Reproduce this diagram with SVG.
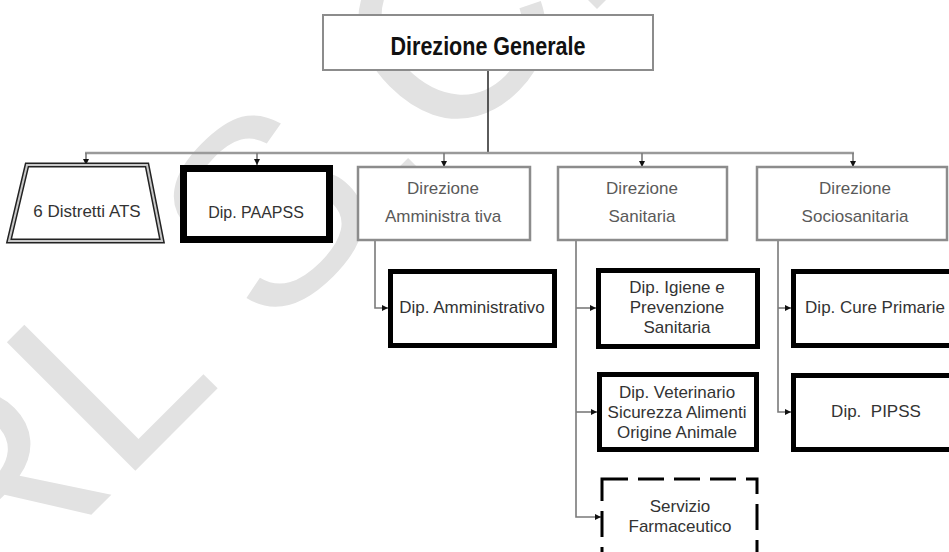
<svg xmlns="http://www.w3.org/2000/svg" width="949" height="552" viewBox="0 0 949 552">
<style>
.t{font-family:"Liberation Sans",Arial,sans-serif;font-size:17px;fill:#333;text-anchor:middle}
.g{fill:#5a5a5a}
.dir{fill:#fff;stroke:#8c8c8c;stroke-width:2.5}
.dip{fill:#fff;stroke:#000;stroke-width:5}
.wm{font-family:"Liberation Sans",Arial,sans-serif;font-size:264px;fill:#e2e2e2}
.c{fill:none;stroke:#7a7a7a;stroke-width:1.6}
</style>
<defs>
<marker id="ah" markerWidth="6" markerHeight="6" refX="6" refY="3" orient="auto" markerUnits="userSpaceOnUse"><path d="M0,0 L6,3 L0,6 z" fill="#111"/></marker>
</defs>
<rect width="949" height="552" fill="#fff"/>
<text class="wm" transform="translate(133,473) rotate(-45)" x="-209" y="0">RL S.C.R</text>
<g id="connectors">
<path d="M488,70 V153" fill="none" stroke="#333" stroke-width="1.6"/>
<path d="M85,153 H854" fill="none" stroke="#9a9a9a" stroke-width="2.5"/>
<path class="c" d="M86,153 V165" marker-end="url(#ah)"/>
<path class="c" d="M257,153 V165" marker-end="url(#ah)"/>
<path class="c" d="M444,153 V167" marker-end="url(#ah)"/>
<path class="c" d="M642,153 V167" marker-end="url(#ah)"/>
<path class="c" d="M853,153 V167" marker-end="url(#ah)"/>
<path class="c" d="M375,240 V308 H388" marker-end="url(#ah)"/>
<path class="c" d="M576,240 V517 H601" marker-end="url(#ah)"/>
<path class="c" d="M576,308 H596" marker-end="url(#ah)"/>
<path class="c" d="M576,412 H597" marker-end="url(#ah)"/>
<path class="c" d="M778,240 V412 H791" marker-end="url(#ah)"/>
<path class="c" d="M778,308 H791" marker-end="url(#ah)"/>
</g>
<g id="direzione-generale">
<rect x="323" y="15" width="330" height="55" fill="#fff" stroke="#8c8c8c" stroke-width="2"/>
<text x="488" y="55" class="t" style="font-size:25px;font-weight:bold;fill:#111" textLength="195" lengthAdjust="spacingAndGlyphs">Direzione Generale</text>
</g>
<g id="distretti-ats">
<polygon points="27,165 147,165 162,241 9,241" fill="#fff" stroke="#222" stroke-width="5"/>
<polygon points="27,165 147,165 162,241 9,241" fill="none" stroke="#c8c8c8" stroke-width="2"/>
<text x="87" y="217" class="t">6 Distretti ATS</text>
</g>
<g id="dip-paapss">
<rect x="183.5" y="168.5" width="146" height="71" fill="#fff" stroke="#000" stroke-width="7"/>
<text x="256" y="218" class="t" style="font-size:16px">Dip. PAAPSS</text>
</g>
<g id="direzione-amministrativa">
<rect class="dir" x="358" y="167" width="172" height="73"/>
<text x="443" y="194" class="t g">Direzione</text>
<text x="443" y="222" class="t g">Amministra tiva</text>
</g>
<g id="direzione-sanitaria">
<rect class="dir" x="558" y="167" width="169" height="73"/>
<text x="642" y="194" class="t g">Direzione</text>
<text x="642" y="222" class="t g">Sanitaria</text>
</g>
<g id="direzione-sociosanitaria">
<rect class="dir" x="757" y="167" width="190" height="73"/>
<text x="855" y="194" class="t g">Direzione</text>
<text x="855" y="222" class="t g">Sociosanitaria</text>
</g>
<g id="dip-amministrativo">
<rect class="dip" x="390.5" y="271.5" width="164" height="74"/>
<text x="472" y="313" class="t">Dip. Amministrativo</text>
</g>
<g id="dip-igiene">
<rect class="dip" x="598.5" y="270.5" width="159" height="76"/>
<text x="677" y="293" class="t">Dip. Igiene e</text>
<text x="677" y="313" class="t">Prevenzione</text>
<text x="677" y="333" class="t">Sanitaria</text>
</g>
<g id="dip-veterinario">
<rect class="dip" x="599.5" y="374.5" width="157" height="75"/>
<text x="677" y="398" class="t">Dip. Veterinario</text>
<text x="677" y="418" class="t">Sicurezza Alimenti</text>
<text x="677" y="438" class="t">Origine Animale</text>
</g>
<g id="servizio-farmaceutico">
<rect x="602" y="479" width="155" height="90" fill="#fff" stroke="#000" stroke-width="3" stroke-dasharray="26 10"/>
<text x="680" y="512" class="t">Servizio</text>
<text x="680" y="532" class="t">Farmaceutico</text>
</g>
<g id="dip-cure-primarie">
<rect class="dip" x="793.5" y="271.5" width="170" height="74"/>
<text x="875" y="313" class="t">Dip. Cure Primarie</text>
</g>
<g id="dip-pipss">
<rect class="dip" x="793.5" y="375.5" width="170" height="74"/>
<text x="876" y="417" class="t" style="white-space:pre">Dip.  PIPSS</text>
</g>
</svg>
